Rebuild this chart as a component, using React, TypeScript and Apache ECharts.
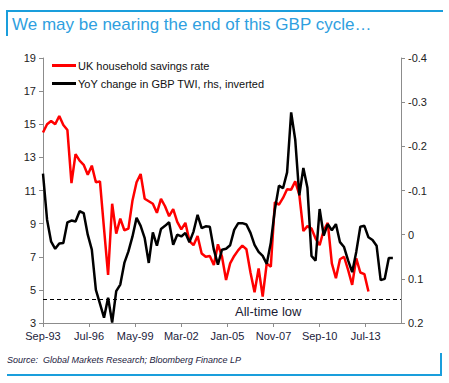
import React, { useEffect, useRef } from "react";
import * as echarts from "echarts";

// Quarterly observations starting Sep-93
const startLabel = "Sep-93";
const savingsRate = [14.5, 15.0, 15.2, 15.0, 15.5, 14.95, 14.65, 11.45, 13.2, 12.8, 12.55, 11.95, 12.5, 11.5, 11.55, 8.7, 5.9, 10.2, 8.4, 9.3, 8.6, 8.7, 10.4, 11.5, 12.0, 10.5, 10.35, 10.2, 9.65, 10.5, 10.05, 9.45, 9.88, 9.1, 8.65, 9.05, 7.95, 7.7, 8.25, 7.2, 7.0, 7.05, 6.5, 7.75, 7.0, 5.6, 6.6, 7.05, 7.4, 7.67, 7.45, 6.05, 4.85, 6.3, 4.6, 6.6, 6.4, 10.3, 10.15, 10.55, 11.08, 11.05, 11.55, 10.75, 8.55, 8.85, 8.7, 8.1, 7.7, 8.6, 9.05, 6.6, 5.7, 6.85, 7.0, 6.2, 5.3, 6.9, 6.05, 5.95, 4.9];
const twiChange = [-0.138, -0.034, 0.016, 0.032, 0.020, 0.019, -0.028, -0.032, -0.030, -0.053, -0.049, 0.000, 0.034, 0.125, 0.156, 0.188, 0.143, 0.199, 0.128, 0.113, 0.064, 0.038, 0.004, -0.038, -0.020, 0.008, 0.064, -0.005, 0.025, -0.013, -0.020, -0.028, 0.023, 0.000, 0.004, -0.004, 0.017, -0.007, -0.045, -0.015, -0.019, -0.018, 0.034, 0.068, 0.034, 0.032, 0.024, -0.011, -0.026, -0.026, -0.023, -0.004, 0.023, 0.039, 0.048, 0.066, 0.018, -0.057, -0.111, -0.105, -0.141, -0.277, -0.215, -0.089, -0.151, -0.106, 0.048, 0.059, -0.058, 0.002, -0.024, -0.010, -0.024, 0.017, 0.028, 0.058, 0.085, 0.039, -0.018, -0.020, 0.006, 0.012, 0.025, 0.103, 0.100, 0.053, 0.053];
const allTimeLow = 4.45;
const seriesNames = ["UK household savings rate", "YoY change in GBP TWI, rhs, inverted"];
const monthNames = ["Jan", "Feb", "Mar", "Apr", "May", "Jun", "Jul", "Aug", "Sep", "Oct", "Nov", "Dec"];

const START_MONTH = 8; // Sep (0-based)
const START_YEAR = 1993;
const fmtMonth = (v: number) => {
  const t = START_MONTH + Math.round(v);
  const y = START_YEAR + Math.floor(t / 12);
  return monthNames[t % 12] + "-" + String(y % 100).padStart(2, "0");
};

const FONT = "'Liberation Sans', Arial, sans-serif";
const BLUE = "#1a9edc";

export default function App() {
  const ref = useRef<HTMLDivElement>(null);
  useEffect(() => {
    if (!ref.current) return;
    const chart = echarts.init(ref.current, undefined, { renderer: "svg" });
    const redData = savingsRate.map((v, i) => [i * 3, v]);
    const blackData = twiChange.map((v, i) => [i * 3, v]);
    chart.setOption({
      animation: false,
      textStyle: { fontFamily: FONT },
      grid: { left: 43, right: 48, top: 58, bottom: 60, containLabel: false },
      legend: {
        data: seriesNames,
        orient: "vertical",
        left: 52,
        top: 59,
        icon: "rect",
        itemWidth: 24,
        itemHeight: 3,
        itemGap: 5,
        padding: 0,
        textStyle: { fontSize: 11, color: "#111", fontFamily: FONT, padding: [0, 0, 0, -3], lineHeight: 13 },
      },
      xAxis: {
        type: "value",
        min: 0,
        max: 264,
        interval: 34,
        splitLine: { show: false },
        axisLine: { show: true, onZero: false, lineStyle: { color: "#8c8c8c", width: 1 } },
        axisTick: { show: true, length: 4, lineStyle: { color: "#8c8c8c" } },
        axisLabel: {
          fontSize: 11,
          color: "#1c1c3c",
          margin: 7,
          fontFamily: FONT,
          formatter: (v: number) => (Math.round(v) % 34 === 0 ? fmtMonth(v) : ""),
          showMaxLabel: false,
        },
      },
      yAxis: [
        {
          type: "value",
          min: 3,
          max: 19,
          interval: 2,
          position: "left",
          splitLine: { show: false },
          axisLine: { show: true, onZero: false, lineStyle: { color: "#8c8c8c" } },
          axisTick: { show: true, length: 4, lineStyle: { color: "#8c8c8c" } },
          axisLabel: { fontSize: 11, color: "#222", margin: 7, fontFamily: FONT },
        },
        {
          type: "value",
          min: -0.4,
          max: 0.2,
          interval: 0.1,
          inverse: true,
          position: "right",
          splitLine: { show: false },
          axisLine: { show: true, onZero: false, lineStyle: { color: "#8c8c8c" } },
          axisTick: { show: true, length: 4, lineStyle: { color: "#8c8c8c" } },
          axisLabel: { fontSize: 11, color: "#222", margin: 7, fontFamily: FONT },
        },
      ],
      series: [
        {
          name: seriesNames[0],
          type: "line",
          yAxisIndex: 0,
          data: redData,
          symbol: "none",
          color: "#ff0000",
          lineStyle: { color: "#ff0000", width: 2.5 },
          markLine: {
            silent: true,
            symbol: "none",
            label: { show: false },
            lineStyle: { color: "#000", type: [4, 3], width: 1 },
            data: [{ yAxis: allTimeLow }],
          },
          z: 2,
        },
        {
          name: seriesNames[1],
          type: "line",
          yAxisIndex: 1,
          data: blackData,
          symbol: "none",
          color: "#000",
          lineStyle: { color: "#000", width: 2.5 },
          z: 3,
        },
      ],
      graphic: [
        { type: "line", shape: { x1: 7, y1: 11, x2: 443, y2: 11 }, style: { stroke: BLUE, lineWidth: 2 } },
        { type: "line", shape: { x1: 7, y1: 10, x2: 7, y2: 36 }, style: { stroke: BLUE, lineWidth: 2 } },
        {
          type: "text",
          left: 12,
          top: 16,
          style: { text: "We may be nearing the end of this GBP cycle\u2026", fill: "#2f9fe0", font: `17px ${FONT}` },
        },
        {
          type: "text",
          left: 235,
          top: 305,
          style: { text: "All-time low", fill: "#1a1a33", font: `13px ${FONT}` },
        },
        {
          type: "text",
          left: 7,
          top: 355,
          style: { text: "Source:  Global Markets Research; Bloomberg Finance LP", fill: "#1a1a40", font: `italic 9px ${FONT}` },
        },
        { type: "line", shape: { x1: 7, y1: 375, x2: 442, y2: 375 }, style: { stroke: BLUE, lineWidth: 2 } },
        { type: "line", shape: { x1: 441, y1: 353, x2: 441, y2: 376 }, style: { stroke: BLUE, lineWidth: 2 } },
      ],
    });
    return () => chart.dispose();
  }, []);
  return (
    <div
      ref={ref}
      data-start={startLabel}
      style={{ position: "fixed", left: 0, top: 0, width: 449, height: 383, background: "#fff" }}
    />
  );
}
